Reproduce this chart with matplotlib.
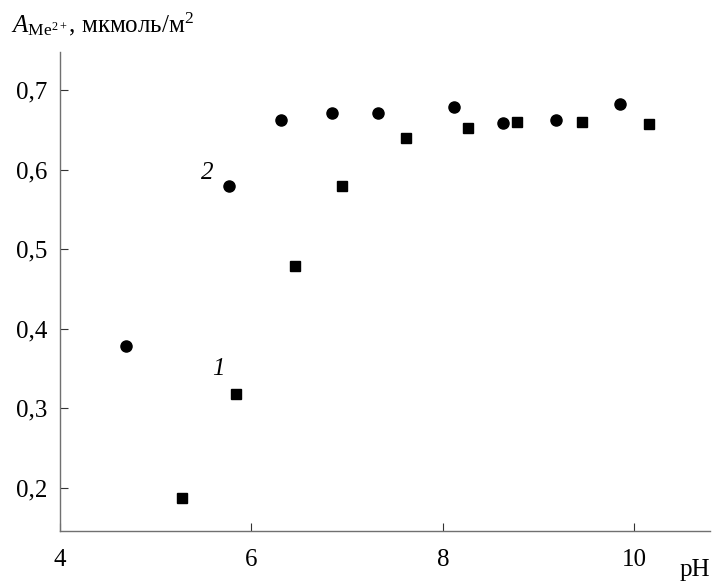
import matplotlib
matplotlib.use("Agg")
from matplotlib import pyplot as plt

plt.rcParams['font.family'] = ['Liberation Serif', 'DejaVu Serif']
plt.rcParams['mathtext.fontset'] = 'custom'
plt.rcParams['mathtext.rm'] = 'Liberation Serif'
plt.rcParams['mathtext.it'] = 'Liberation Serif:italic'

# curve 1 (squares)
ph_1 = [5.27, 5.84, 6.45, 6.95, 7.62, 8.26, 8.77, 9.45, 10.15]
a_1 = [0.187, 0.318, 0.479, 0.580, 0.640, 0.652, 0.660, 0.660, 0.658]

# curve 2 (circles)
ph_2 = [4.69, 5.77, 6.31, 6.84, 7.32, 8.12, 8.63, 9.18, 9.85]
a_2 = [0.379, 0.580, 0.662, 0.671, 0.671, 0.679, 0.659, 0.662, 0.683]

x_ticks = [4, 6, 8, 10]
y_ticks = [0.2, 0.3, 0.4, 0.5, 0.6, 0.7]
y_tick_labels = ["0,2", "0,3", "0,4", "0,5", "0,6", "0,7"]

fig = plt.figure(figsize=(7.12, 5.83), dpi=100)
ax = fig.add_axes([0.0843, 0.0892, 0.9127, 0.8218])

ax.plot(ph_1, a_1, linestyle='none', marker='s', markersize=7.8, color='black')
ax.plot(ph_2, a_2, linestyle='none', marker='o', markersize=8, color='black')

ax.text(5.65, 0.349, "1", fontsize=18, style='italic', ha='center', va='center')
ax.text(5.54, 0.596, "2", fontsize=18, style='italic', ha='center', va='center')

ax.set_xlim(4, 10.79)
ax.set_ylim(0.146, 0.748)
ax.set_xticks(x_ticks)
ax.set_yticks(y_ticks)
ax.set_yticklabels(y_tick_labels)
ax.tick_params(direction='in', length=5.5, width=0.8, labelsize=18, color='#333333')
ax.tick_params(axis='x', pad=13)
ax.tick_params(axis='y', pad=9)

for side in ['top', 'right']:
    ax.spines[side].set_visible(False)
for side in ['left', 'bottom']:
    ax.spines[side].set_color('#707070')
    ax.spines[side].set_linewidth(1.0)

fig.text(0.016, 0.945, r"$\mathit{A}_{\mathrm{Me}^{2+}}$, мкмоль/м$^{2}$", fontsize=18,
         ha='left', va='baseline')
fig.text(0.997, 0.012, "pH", fontsize=18, ha='right', va='baseline')

fig.savefig("out.png", dpi=100)
